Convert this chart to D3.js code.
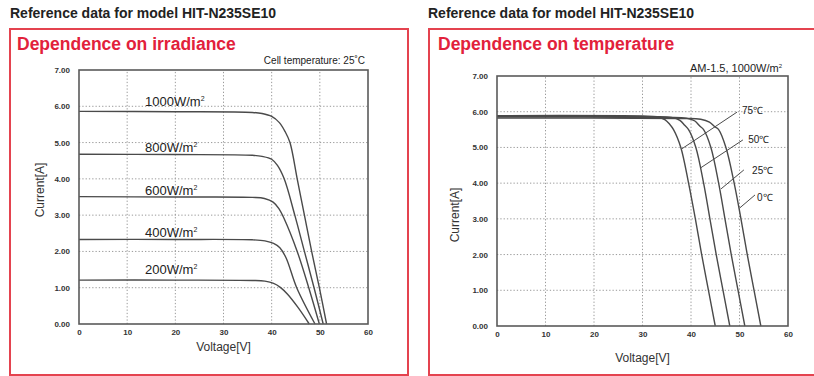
<!DOCTYPE html>
<html>
<head>
<meta charset="utf-8">
<script src="https://cdn.jsdelivr.net/npm/d3@7"></script>
<style>
  html, body { margin: 0; padding: 0; background: #fff; }
  svg { display: block; font-family: "Liberation Sans", Arial, sans-serif; }
</style>
</head>
<body>
<svg id="chart" width="814" height="376"></svg>
<script>
// ---------------- DATA ----------------
const headerText = "Reference data for model HIT-N235SE10";
const xTicks = [0, 10, 20, 30, 40, 50, 60];
const yTicks = [0, 1, 2, 3, 4, 5, 6, 7];
const xTickLabels = ["0", "10", "20", "30", "40", "50", "60"];
const yTickLabels = ["0.00", "1.00", "2.00", "3.00", "4.00", "5.00", "6.00", "7.00"];

// Irradiance panel: [voltage V, current A]
const irradianceNames = ["1000W/m", "800W/m", "600W/m", "400W/m", "200W/m"];
const irr1000 = [[0,5.86],[20,5.85],[36,5.83],[38,5.80],[40,5.72],[41.6,5.55],[42.8,5.3],[43.8,5.0],[45.3,4.0],[46.8,3.0],[48.3,2.0],[49.9,1.0],[51.4,0]];
const irr800  = [[0,4.68],[20,4.67],[36,4.65],[38,4.62],[40.0,4.54],[41.2,4.37],[42.6,4.0],[44.8,3.0],[46.8,2.0],[48.8,1.0],[50.7,0]];
const irr600  = [[0,3.51],[20,3.50],[36,3.49],[38.5,3.46],[40.3,3.36],[41.5,3.18],[42.6,2.9],[45.3,2.0],[47.7,1.0],[49.9,0]];
const irr400  = [[0,2.33],[20,2.33],[36,2.32],[38.6,2.29],[40.4,2.22],[41.7,2.10],[43.0,1.82],[45.2,1.0],[49.0,0]];
const irr200  = [[0,1.21],[20,1.21],[36,1.20],[38.6,1.18],[40.4,1.12],[41.8,1.01],[43.3,0.82],[45.5,0.45],[47.8,0]];
const irradianceSeries = [irr1000, irr800, irr600, irr400, irr200];
// label anchor [V, I] (text baseline start)
const irradianceLabelPos = [[13.7,6.00],[13.7,4.74],[13.7,3.55],[13.7,2.40],[13.7,1.38]];

// Temperature panel
const tempNames = ["75\u2103", "50\u2103", "25\u2103", "0\u2103"];
const temp75 = [[0,5.89],[30,5.88],[33,5.86],[34.6,5.78],[35.6,5.65],[36.4,5.5],[37.9,5.0],[39.5,4.0],[40.9,3.0],[42.2,2.0],[43.6,1.0],[45.0,0]];
const temp50 = [[0,5.87],[32,5.86],[36,5.84],[37.7,5.76],[38.7,5.62],[39.5,5.5],[41.0,5.0],[42.6,4.0],[43.9,3.0],[45.2,2.0],[46.6,1.0],[48.0,0]];
const temp25 = [[0,5.85],[35,5.84],[39,5.82],[40.8,5.74],[41.8,5.6],[42.6,5.5],[44.1,5.0],[45.7,4.0],[47.0,3.0],[48.3,2.0],[49.7,1.0],[51.1,0]];
const temp0  = [[0,5.82],[38,5.81],[42,5.79],[43.8,5.71],[44.9,5.58],[45.7,5.5],[47.2,5.0],[48.9,4.0],[50.3,3.0],[51.6,2.0],[53.0,1.0],[54.4,0]];
const tempSeries = [temp75, temp50, temp25, temp0];
// label text position [V, I] and leader line [[V1,I1],[V2,I2]]
const tempLabelPos = [[50.5,5.94],[51.8,5.12],[52.6,4.26],[53.6,3.50]];
const tempLeaders = [
  [[49.5,5.99],[38.1,4.96]],
  [[50.7,5.21],[41.9,4.42]],
  [[50.9,4.37],[46.2,3.84]],
  [[53.2,3.67],[50.0,3.30]]
];

// ---------------- DRAW ----------------
const svg = d3.select("#chart");
const RED = "#e2213b";
const BORDER = "#e4434f";
const INK = "#4a4a4a";

function panel(cfg) {
  const g = svg.append("g");
  // header
  g.append("text").attr("x", cfg.hx).attr("y", 18)
    .attr("font-size", 14).attr("font-weight", "bold").attr("fill", "#222")
    .text(headerText);
  // red box
  g.append("rect").attr("x", cfg.bx).attr("y", 29).attr("width", cfg.bw).attr("height", 346)
    .attr("fill", "none").attr("stroke", BORDER).attr("stroke-width", 2);
  // title
  g.append("text").attr("x", cfg.tx).attr("y", 50)
    .attr("font-size", 17.5).attr("font-weight", "bold").attr("fill", RED)
    .text(cfg.title);

  const x = d3.scaleLinear().domain([0, 60]).range([cfg.x0, cfg.x1]);
  const y = d3.scaleLinear().domain([0, 7]).range([cfg.y0, cfg.y1]);

  // grid
  const grid = g.append("g");
  grid.selectAll("line.vx").data(xTicks.slice(1, -1)).join("line")
    .attr("x1", d => x(d)).attr("x2", d => x(d)).attr("y1", y(0)).attr("y2", y(7))
    .attr("stroke", "#9a9a9a").attr("stroke-width", 1).attr("stroke-dasharray", "1.3,2");
  grid.selectAll("line.hy").data(yTicks.slice(1, -1)).join("line")
    .attr("y1", d => y(d)).attr("y2", d => y(d)).attr("x1", x(0)).attr("x2", x(60))
    .attr("stroke", "#9a9a9a").attr("stroke-width", 1).attr("stroke-dasharray", "1.3,2");

  // axes (labels only)
  const xAxis = d3.axisBottom(x).tickValues(xTicks).tickFormat((d, i) => xTickLabels[i]).tickSize(0).tickPadding(5);
  const yAxis = d3.axisLeft(y).tickValues(yTicks).tickFormat((d, i) => yTickLabels[i]).tickSize(0).tickPadding(9);
  const ax = g.append("g").attr("transform", `translate(0,${y(0)})`).call(xAxis);
  const ay = g.append("g").attr("transform", `translate(${x(0)},0)`).call(yAxis);
  [ax, ay].forEach(a => {
    a.select(".domain").remove();
    a.selectAll("text").attr("font-size", 8).attr("fill", "#333")
      .attr("font-family", "'Liberation Sans Narrow', 'Liberation Sans', Arial, sans-serif")
      .attr("font-weight", "bold");
  });

  // curves
  const line = d3.line().x(d => x(d[0])).y(d => y(d[1])).curve(d3.curveCatmullRom.alpha(0.5));
  g.append("g").selectAll("path").data(cfg.series).join("path")
    .attr("d", line).attr("fill", "none").attr("stroke", INK).attr("stroke-width", 1.4);

  // frame
  g.append("rect").attr("x", x(0)).attr("y", y(7)).attr("width", x(60) - x(0)).attr("height", y(0) - y(7))
    .attr("fill", "none").attr("stroke", "#5a5a5a").attr("stroke-width", 1.6);

  // axis titles
  g.append("text").attr("x", (x(0) + x(60)) / 2).attr("y", cfg.xTitleY)
    .attr("text-anchor", "middle").attr("font-size", 12).attr("fill", "#333").text("Voltage[V]");
  g.append("text").attr("transform", `translate(${cfg.yTitleX},${cfg.yTitleY}) rotate(-90)`)
    .attr("text-anchor", "middle").attr("font-size", 12).attr("fill", "#333").text("Current[A]");

  return { g, x, y };
}

// Left panel
const L = panel({
  hx: 10, bx: 10, bw: 398, tx: 17, title: "Dependence on irradiance",
  x0: 79, x1: 368, y0: 324, y1: 70, xTitleY: 351, yTitleX: 44, yTitleY: 190,
  series: irradianceSeries
});
L.g.append("text").attr("x", 365).attr("y", 64).attr("text-anchor", "end")
  .attr("font-size", 10).attr("fill", "#222").text("Cell temperature: 25\u02DAC");
irradianceNames.forEach((n, i) => {
  const t = L.g.append("text").attr("x", L.x(irradianceLabelPos[i][0])).attr("y", L.y(irradianceLabelPos[i][1]))
    .attr("font-size", 13).attr("fill", "#222");
  t.append("tspan").text(n);
  t.append("tspan").attr("dy", -5).attr("font-size", 7).text("2");
});

// Right panel
const R = panel({
  hx: 428, bx: 429, bw: 400, tx: 438, title: "Dependence on temperature",
  x0: 497, x1: 788, y0: 326, y1: 76, xTitleY: 362, yTitleX: 459, yTitleY: 215,
  series: tempSeries
});
{
  const t = R.g.append("text").attr("x", 782).attr("y", 72).attr("text-anchor", "end")
    .attr("font-size", 11).attr("fill", "#222");
  t.append("tspan").text("AM-1.5, 1000W/m");
  t.append("tspan").attr("dy", -4).attr("font-size", 6).text("2");
}
tempNames.forEach((n, i) => {
  R.g.append("line")
    .attr("x1", R.x(tempLeaders[i][0][0])).attr("y1", R.y(tempLeaders[i][0][1]))
    .attr("x2", R.x(tempLeaders[i][1][0])).attr("y2", R.y(tempLeaders[i][1][1]))
    .attr("stroke", INK).attr("stroke-width", 1);
  R.g.append("text").attr("x", R.x(tempLabelPos[i][0])).attr("y", R.y(tempLabelPos[i][1]))
    .attr("font-size", 10).attr("fill", "#222")
    .attr("font-family", "'Liberation Sans Narrow', 'Liberation Sans', Arial, sans-serif")
    .text(n);
});
</script>
</body>
</html>
